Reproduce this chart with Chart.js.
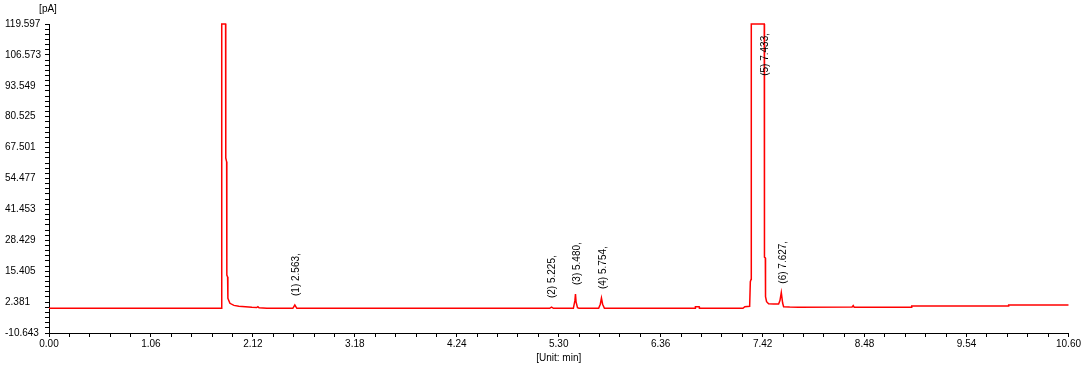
<!DOCTYPE html>
<html lang="en">
<head>
    <meta charset="UTF-8">
    <title>Chromatogram</title>
    <script src="https://cdn.jsdelivr.net/npm/chart.js"></script>
    <style>
        html, body { margin: 0; padding: 0; background: #fff; }
        canvas { display: block; }
    </style>
</head>
<body>
    <canvas id="chrom" width="1082" height="368"></canvas>

    <script>
        // signal trace (time in min, signal in pA)
        const times = [
            0, 1.790, 1.796, 1.836, 1.838, 1.847, 1.849, 1.857, 1.860, 1.881, 1.923, 1.974, 2.110, 2.160, 2.172, 2.184, 2.265,
            2.535, 2.556, 2.577,
            5.205, 5.225, 5.245,
            5.452, 5.468, 5.474, 5.480, 5.495, 5.510,
            5.715, 5.732, 5.744, 5.756, 5.775,
            6.718, 6.721, 6.760, 6.763,
            7.215, 7.235, 7.285, 7.292, 7.300, 7.302, 7.437, 7.439, 7.448, 7.450, 7.461, 7.482, 7.534, 7.586, 7.600, 7.614, 7.628, 7.638, 7.700, 7.794,
            8.350, 8.362, 8.372,
            8.966, 8.970, 9.974, 9.978, 10.6
        ];
        const signal = [
            -0.23, -0.23, 119.6, 119.6, 63.1, 61.5, 13.8, 13.0, 3.98, 1.87, 1.0, 0.6, 0.19, 0.1, 0.44, 0.0, -0.23,
            -0.23, 1.16, -0.23,
            -0.23, 0.3, -0.23,
            -0.23, 3.0, 5.8, 2.5, 0.0, -0.23,
            -0.23, 1.5, 4.1, 1.5, -0.23,
            -0.23, 0.44, 0.44, -0.23,
            -0.23, 0.44, 0.6, 11.0, 12.0, 119.6, 119.6, 21.3, 21.0, 4.66, 2.55, 1.7, 1.58, 1.6, 3.0, 6.35, 2.0, 0.44, 0.3, 0.19,
            0.3, 0.9, 0.2,
            0.19, 0.74, 0.74, 1.16, 1.16
        ];

        // peak annotations
        const peakLabels = ['(1) 2.563,', '(2) 5.225,', '(3) 5.480,', '(4) 5.754,', '(5) 7.433,', '(6) 7.627,'];
        const peakTimes = [2.563, 5.225, 5.480, 5.754, 7.433, 7.627];
        const peakApex = [1.16, 0.3, 5.8, 4.1, 119.6, 6.35];

        // axis ticks
        const xTickLabels = ['0.00', '1.06', '2.12', '3.18', '4.24', '5.30', '6.36', '7.42', '8.48', '9.54', '10.60'];
        const yTickLabels = ['-10.643', '2.381', '15.405', '28.429', '41.453', '54.477', '67.501', '80.525', '93.549', '106.573', '119.597'];
        const xMinorPerMajor = 5;
        const yMinorPerMajor = 6;

        const xMajor = xTickLabels.map(Number);
        const yMajor = yTickLabels.map(Number);

        function subdivide(majors, n) {
            const out = [];
            for (let i = 0; i < majors.length; i++) {
                out.push(majors[i]);
                if (i < majors.length - 1) {
                    const step = (majors[i + 1] - majors[i]) / n;
                    for (let j = 1; j < n; j++) out.push(majors[i] + step * j);
                }
            }
            return out;
        }

        const fontFamily = 'Arial, "Liberation Sans", sans-serif';

        const peakLabelPlugin = {
            id: 'peakLabels',
            afterDatasetsDraw(chart) {
                const { ctx, chartArea, scales } = chart;
                ctx.save();
                ctx.font = '10px ' + fontFamily;
                ctx.fillStyle = '#000';
                ctx.textAlign = 'left';
                ctx.textBaseline = 'middle';
                peakLabels.forEach((txt, i) => {
                    const px = scales.x.getPixelForValue(peakTimes[i]) + 1;
                    let py = scales.y.getPixelForValue(peakApex[i]) - 9;
                    const w = ctx.measureText(txt).width;
                    if (py - w < chartArea.top + 9) py = chartArea.top + 9 + w;
                    ctx.save();
                    ctx.translate(px, py);
                    ctx.rotate(-Math.PI / 2);
                    ctx.fillText(txt, 0, 0);
                    ctx.restore();
                });
                // unit of the signal axis
                ctx.textAlign = 'center';
                ctx.fillText('[pA]', chartArea.left - 1, 9);
                ctx.restore();
            }
        };

        const ctx = document.getElementById('chrom').getContext('2d');

        new Chart(ctx, {
            type: 'line',
            data: {
                datasets: [{
                    data: times.map((t, i) => ({ x: t, y: signal[i] })),
                    borderColor: '#ff0000',
                    borderWidth: 1.5,
                    pointRadius: 0,
                    tension: 0,
                    fill: false
                }]
            },
            options: {
                responsive: false,
                animation: false,
                clip: false,
                layout: { padding: { left: 5, top: 24, right: 12, bottom: 0 } },
                plugins: {
                    legend: { display: false },
                    tooltip: { enabled: false }
                },
                scales: {
                    x: {
                        type: 'linear',
                        min: xMajor[0],
                        max: xMajor[xMajor.length - 1],
                        afterBuildTicks: axis => {
                            axis.ticks = subdivide(xMajor, xMinorPerMajor).map(v => ({ value: v }));
                        },
                        afterFit: axis => { axis.height = 35; },
                        ticks: {
                            autoSkip: false,
                            maxRotation: 0,
                            padding: 1,
                            color: '#000',
                            font: { family: fontFamily, size: 10 },
                            callback: (v, i) => (i % xMinorPerMajor === 0 ? xTickLabels[i / xMinorPerMajor] : '')
                        },
                        grid: { drawOnChartArea: false, drawTicks: true, tickLength: 4, color: '#000' },
                        border: { color: '#000', width: 1 },
                        title: {
                            display: true,
                            text: '[Unit: min]',
                            color: '#000',
                            font: { family: fontFamily, size: 10 },
                            padding: { top: 0, bottom: 4 }
                        }
                    },
                    y: {
                        type: 'linear',
                        min: yMajor[0],
                        max: yMajor[yMajor.length - 1],
                        afterBuildTicks: axis => {
                            axis.ticks = subdivide(yMajor, yMinorPerMajor).map(v => ({ value: v }));
                        },
                        afterFit: axis => { axis.width = 44; },
                        ticks: {
                            autoSkip: false,
                            crossAlign: 'far',
                            padding: 2,
                            color: '#000',
                            font: { family: fontFamily, size: 10 },
                            callback: (v, i) => (i % yMinorPerMajor === 0 ? yTickLabels[i / yMinorPerMajor] : '')
                        },
                        grid: { drawOnChartArea: false, drawTicks: true, tickLength: 4, color: '#000' },
                        border: { color: '#000', width: 1 }
                    }
                }
            },
            plugins: [peakLabelPlugin]
        });
    </script>
</body>
</html>
